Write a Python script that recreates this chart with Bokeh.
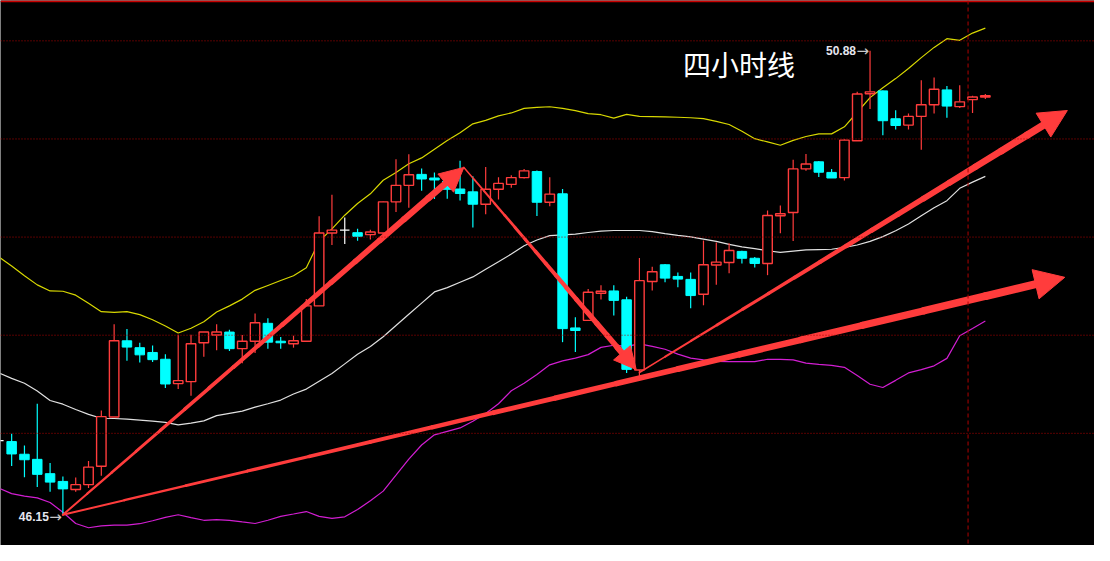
import numpy as np
from bokeh.plotting import figure
from bokeh.models import Span, Arrow, NormalHead
from bokeh.core.properties import value
from bokeh.embed import file_html
from bokeh.resources import INLINE

# ---------------- data (4-hour candles; first entry is the partly visible bar at index -1) ----------------
opens = [46.906, 46.896, 46.767, 46.715, 46.569, 46.490, 46.408, 46.457, 46.645, 47.146,
         47.923, 47.853, 47.804, 47.735, 47.487, 47.507, 47.903, 47.982, 48.012, 47.843,
         47.919, 48.101, 47.919, 47.893, 47.919, 48.279, 49.022, 49.051, 49.025, 49.005,
         49.022, 49.339, 49.507, 49.619, 49.582, 49.549, 49.470, 49.441, 49.315, 49.467,
         49.517, 49.586, 49.648, 49.335, 49.421, 48.054, 48.131, 48.408, 48.431, 48.341,
         47.626, 48.527, 48.698, 48.579, 48.549, 48.398, 48.695, 48.721, 48.834, 48.764,
         48.711, 49.198, 49.230, 49.675, 49.747, 49.639, 49.586, 49.962, 50.441, 50.470,
         50.186, 50.121, 50.210, 50.329, 50.480, 50.309, 50.381, 50.408]
highs = [46.950, 46.975, 46.856, 47.282, 46.678, 46.540, 46.530, 46.698, 47.213, 48.091,
         48.044, 47.903, 47.876, 47.787, 47.985, 47.985, 48.012, 48.091, 48.035, 47.982,
         48.200, 48.153, 47.962, 47.975, 48.348, 49.193, 49.411, 49.180, 49.064, 49.054,
         49.345, 49.774, 49.824, 49.678, 49.639, 49.599, 49.757, 49.599, 49.695, 49.589,
         49.609, 49.675, 49.658, 49.589, 49.470, 48.163, 48.450, 48.490, 48.490, 48.371,
         48.767, 48.678, 48.705, 48.619, 48.619, 48.945, 48.926, 48.916, 48.840, 48.777,
         49.252, 49.302, 49.767, 49.827, 49.755, 49.675, 49.978, 50.460, 50.880, 50.475,
         50.272, 50.240, 50.579, 50.606, 50.520, 50.527, 50.421, 50.438]
lows = [46.860, 46.648, 46.533, 46.434, 46.384, 46.150, 46.384, 46.424, 46.549, 47.146,
        47.721, 47.701, 47.708, 47.443, 47.431, 47.364, 47.760, 47.827, 47.820, 47.695,
        47.800, 47.843, 47.843, 47.853, 47.919, 48.279, 48.899, 48.909, 48.942, 48.955,
        49.010, 49.236, 49.279, 49.453, 49.368, 49.371, 49.354, 49.077, 49.213, 49.364,
        49.483, 49.576, 49.196, 49.295, 47.909, 47.810, 48.131, 48.344, 48.180, 47.596,
        47.562, 48.436, 48.520, 48.470, 48.255, 48.285, 48.493, 48.612, 48.711, 48.671,
        48.592, 49.018, 48.941, 49.655, 49.592, 49.582, 49.556, 49.962, 50.285, 50.018,
        50.077, 50.077, 49.869, 50.240, 50.196, 50.295, 50.245, 50.388]
closes = [46.906, 46.770, 46.711, 46.562, 46.483, 46.414, 46.457, 46.636, 47.150, 47.923,
          47.859, 47.780, 47.731, 47.483, 47.517, 47.893, 48.012, 48.012, 47.843, 47.919,
          48.107, 47.909, 47.903, 47.923, 48.279, 49.022, 49.051, 49.051, 48.988, 49.032,
          49.339, 49.507, 49.616, 49.572, 49.562, 49.467, 49.424, 49.315, 49.467, 49.527,
          49.586, 49.655, 49.335, 49.418, 48.047, 48.028, 48.418, 48.428, 48.335, 47.632,
          48.536, 48.626, 48.562, 48.552, 48.384, 48.698, 48.725, 48.843, 48.764, 48.711,
          49.200, 49.218, 49.675, 49.725, 49.641, 49.582, 49.968, 50.438, 50.460, 50.166,
          50.117, 50.210, 50.329, 50.487, 50.315, 50.358, 50.408, 50.421]

# Bollinger bands as drawn
boll_upper = [48.779, 48.685, 48.586, 48.493, 48.431, 48.428, 48.388, 48.305, 48.220, 48.213,
              48.220, 48.190, 48.137, 48.074, 48.002, 48.051, 48.117, 48.216, 48.279, 48.348,
              48.437, 48.487, 48.537, 48.586, 48.668, 48.936, 49.064, 49.203, 49.322, 49.421,
              49.559, 49.639, 49.728, 49.787, 49.876, 49.965, 50.044, 50.134, 50.170, 50.215,
              50.245, 50.292, 50.302, 50.308, 50.292, 50.269, 50.238, 50.227, 50.193, 50.230,
              50.210, 50.208, 50.206, 50.201, 50.196, 50.188, 50.160, 50.127, 50.059, 49.983,
              49.950, 49.916, 49.965, 50.005, 50.032, 50.032, 50.104, 50.252, 50.401, 50.502,
              50.595, 50.698, 50.809, 50.913, 51.002, 50.985, 51.059, 51.109]
boll_mid = [47.596, 47.540, 47.490, 47.411, 47.315, 47.277, 47.223, 47.173, 47.134, 47.131,
            47.124, 47.114, 47.104, 47.091, 47.067, 47.084, 47.107, 47.160, 47.183, 47.206,
            47.247, 47.282, 47.319, 47.381, 47.431, 47.510, 47.589, 47.688, 47.787, 47.866,
            47.965, 48.079, 48.193, 48.307, 48.421, 48.465, 48.520, 48.574, 48.653, 48.728,
            48.807, 48.891, 48.950, 48.995, 49.003, 49.010, 49.027, 49.040, 49.047, 49.047,
            49.047, 49.035, 49.015, 48.998, 48.982, 48.960, 48.936, 48.906, 48.881, 48.863,
            48.841, 48.824, 48.837, 48.849, 48.853, 48.856, 48.876, 48.899, 48.936, 48.985,
            49.044, 49.114, 49.198, 49.279, 49.351, 49.477, 49.540, 49.599]
boll_lower = [46.421, 46.366, 46.341, 46.322, 46.275, 46.176, 46.061, 46.018, 46.037, 46.044,
              46.044, 46.059, 46.089, 46.124, 46.150, 46.121, 46.094, 46.101, 46.094, 46.077,
              46.061, 46.094, 46.134, 46.158, 46.183, 46.134, 46.114, 46.129, 46.203, 46.292,
              46.391, 46.554, 46.718, 46.861, 46.965, 47.000, 47.035, 47.104, 47.183, 47.282,
              47.414, 47.490, 47.579, 47.678, 47.718, 47.747, 47.782, 47.856, 47.878, 47.866,
              47.891, 47.866, 47.837, 47.787, 47.747, 47.728, 47.713, 47.711, 47.711, 47.711,
              47.735, 47.733, 47.728, 47.695, 47.683, 47.673, 47.653, 47.569, 47.480, 47.447,
              47.520, 47.596, 47.629, 47.668, 47.744, 47.975, 48.049, 48.124]

grid_levels = [46.98, 47.98, 48.98, 49.98, 50.98]
title_text = "四小时线"

# hand-drawn trend arrows (candle index, price)
arrow_x0 = [4.0, 35.3, 4.0, 49.0]
arrow_y0 = [46.15, 49.69, 46.15, 47.60]
arrow_x1 = [35.3, 48.75, 82.2, 82.4]
arrow_y1 = [49.69, 47.63, 48.57, 50.27]

# ---------------- styling ----------------
RED = "#ff3c3c"
CYAN = "#00ffff"
W, H = 1094, 545
X0, X1 = -0.87, 84.52
Y0, Y1 = 45.837, 51.391

p = figure(width=W, height=H, x_range=(X0, X1), y_range=(Y0, Y1),
           output_backend="svg", toolbar_location=None,
           x_axis_location=None, y_axis_location=None,
           background_fill_color="#000000", border_fill_color="#000000",
           outline_line_color=None, min_border=0,
           min_border_left=0, min_border_right=0, min_border_top=0, min_border_bottom=0)
p.grid.visible = False

for g in grid_levels:
    p.add_layout(Span(location=g, dimension="width", line_color="#b00000",
                      line_dash="1 2", line_width=1))
p.add_layout(Span(location=Y1 - 0.008, dimension="width", line_color="#c80000", line_width=2))
p.add_layout(Span(location=74.65, dimension="height", line_color="#b00000",
                  line_dash="4 3", line_width=1))

o = np.array(opens); h = np.array(highs); l = np.array(lows); c = np.array(closes)
idx = np.arange(len(o)) - 1
x = idx.astype(float)

# Bollinger bands
p.line(x, boll_upper, line_color="#d8d800", line_width=1.2)
p.line(x, boll_mid, line_color="#e0e0e0", line_width=1.2)
p.line(x, boll_lower, line_color="#d21ed2", line_width=1.2)

up = c > o
dn = c < o
fl = c == o
top = np.maximum(o, c)
bot = np.minimum(o, c)
BW = 0.74

# up candles (hollow red)
p.segment(x[up], h[up], x[up], top[up], line_color=RED, line_width=1.2)
p.segment(x[up], bot[up], x[up], l[up], line_color=RED, line_width=1.2)
p.vbar(x=x[up], top=top[up], bottom=bot[up], width=BW, fill_color="#000000",
       line_color=RED, line_width=1.4)
# down candles (solid cyan)
p.segment(x[dn], h[dn], x[dn], l[dn], line_color=CYAN, line_width=1.2)
p.vbar(x=x[dn], top=top[dn], bottom=bot[dn], width=BW, fill_color=CYAN,
       line_color=CYAN, line_width=1)
# doji (white cross)
p.segment(x[fl], h[fl], x[fl], l[fl], line_color="#ffffff", line_width=1.2)
p.segment(x[fl] - BW / 2, o[fl], x[fl] + BW / 2, o[fl], line_color="#ffffff", line_width=1.4)

# tapered arrows
sx = W / (X1 - X0)
sy = H / (Y1 - Y0)
widths0 = [2.0, 1.5, 2.0, 1.5]
widths1 = [6.5, 6.0, 8.0, 7.5]
heads = [24, 22, 30, 28]
for xa, ya, xb, yb, w0, w1, hs in zip(arrow_x0, arrow_y0, arrow_x1, arrow_y1, widths0, widths1, heads):
    length = np.hypot((xb - xa) * sx, (yb - ya) * sy)
    t_end = 1 - 0.6 * hs / length
    n = 16
    t = np.linspace(0, t_end, n + 1)
    xs = xa + (xb - xa) * t
    ys = ya + (yb - ya) * t
    lw = np.linspace(w0, w1, n)
    p.segment(x0=xs[:-1], y0=ys[:-1], x1=xs[1:], y1=ys[1:], line_width=lw,
              line_color=RED, line_cap="round")
    p.add_layout(Arrow(end=NormalHead(size=hs, fill_color=RED, line_color=RED, line_width=1),
                       x_start=xa, y_start=ya, x_end=xb, y_end=yb, line_alpha=0))

# extreme labels: value text + arrow pointing to the extreme
imax = int(np.argmax(h)); imin = int(np.argmin(l))
for xi, yi, yo in [(x[imax], h[imax], 0), (x[imin], l[imin], 2)]:
    p.text(x=[xi], y=[yi], text=["\u2192"], text_align="right", text_baseline="middle",
           x_offset=-1, y_offset=yo, text_font=value("DejaVu Sans"),
           text_font_size="15px", text_color="#c8c8c8")
    p.text(x=[xi], y=[yi], text=[f"{yi:.2f}"], text_align="right", text_baseline="middle",
           x_offset=-14, y_offset=yo, text_font=value("Liberation Sans"),
           text_font_size="12px", text_font_style="bold", text_color="#e6e6ee")

# title
p.text(x=[52.4], y=[50.74], text=[title_text], text_align="left", text_baseline="middle",
       text_font=value("Noto Sans CJK SC"), text_font_size="28px", text_color="#ffffff")

open("out.html", "w").write(file_html(p, INLINE))
